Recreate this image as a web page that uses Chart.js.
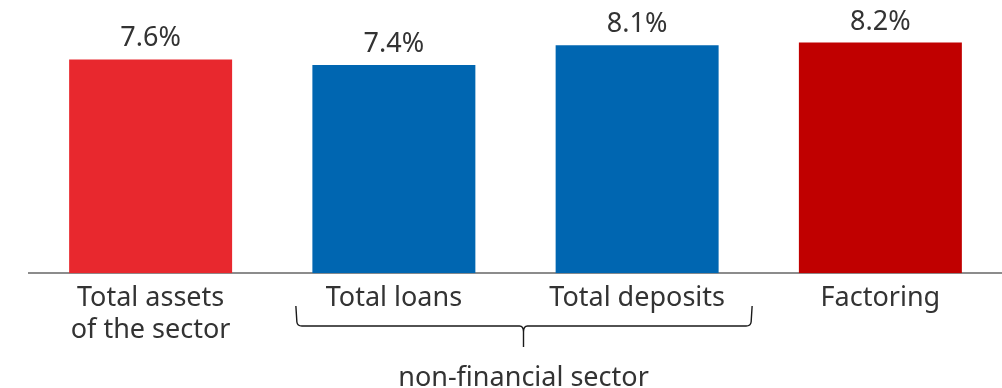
<!DOCTYPE html>
<html>
<head>
<meta charset="utf-8">
<script src="https://cdn.jsdelivr.net/npm/chart.js@4.4.1/dist/chart.umd.min.js"></script>
<style>
  html, body { margin: 0; padding: 0; background: #fff; }
  #wrap { width: 1002px; height: 388px; position: relative; }
</style>
</head>
<body>
<div id="wrap"><canvas id="growthChart"></canvas></div>
<script>
const categories = [
  ["Total assets", "of the sector"],
  "Total loans",
  "Total deposits",
  "Factoring"
];
const growthValues = [7.6, 7.4, 8.1, 8.2];
const barColors = ["#e8282e", "#0066b1", "#0066b1", "#c00000"];
const groupLabel = "non-financial sector";
const groupedBars = [1, 2];

const FONT = "'Noto Sans', 'Open Sans', sans-serif";
const TEXT = "#333333";

// value labels above each bar
const valueLabels = {
  id: "valueLabels",
  afterDatasetsDraw(chart) {
    const ctx = chart.ctx;
    const meta = chart.getDatasetMeta(0);
    ctx.save();
    ctx.font = "27px " + FONT;
    ctx.fillStyle = TEXT;
    ctx.textAlign = "center";
    ctx.textBaseline = "alphabetic";
    meta.data.forEach((bar, i) => {
      ctx.fillText(growthValues[i].toFixed(1) + "%", bar.x, bar.y - 13);
    });
    ctx.restore();
  }
};

// curly brace under the two non-financial sector bars
const groupBrace = {
  id: "groupBrace",
  afterDraw(chart) {
    const ctx = chart.ctx;
    const x = chart.scales.x;
    const left = x.getPixelForValue(groupedBars[0]) - 98;
    const right = x.getPixelForValue(groupedBars[1]) + 115;
    const mid = (x.getPixelForValue(groupedBars[0]) + x.getPixelForValue(groupedBars[1])) / 2 + 8;
    const top = 306, line = 326, tip = 347, r = 4;
    ctx.save();
    ctx.strokeStyle = "#1a1a1a";
    ctx.lineWidth = 1.4;
    ctx.beginPath();
    ctx.moveTo(left, top);
    ctx.lineTo(left + 1, line - r);
    ctx.quadraticCurveTo(left + 1.5, line, left + r + 2, line);
    ctx.lineTo(mid - r, line);
    ctx.quadraticCurveTo(mid, line, mid, line + r + 2);
    ctx.lineTo(mid, tip);
    ctx.moveTo(mid, line + r + 2);
    ctx.quadraticCurveTo(mid, line, mid + r, line);
    ctx.lineTo(right - r - 2, line);
    ctx.quadraticCurveTo(right - 1.5, line, right - 1, line - r);
    ctx.lineTo(right, top);
    ctx.stroke();

    ctx.font = "27px " + FONT;
    ctx.fillStyle = TEXT;
    ctx.textAlign = "center";
    ctx.textBaseline = "alphabetic";
    ctx.fillText(groupLabel, mid, 386);
    ctx.restore();
  }
};

new Chart(document.getElementById("growthChart"), {
  type: "bar",
  data: {
    labels: categories,
    datasets: [{
      data: growthValues,
      backgroundColor: barColors,
      categoryPercentage: 1,
      barPercentage: 0.67
    }]
  },
  options: {
    responsive: true,
    maintainAspectRatio: false,
    animation: false,
    devicePixelRatio: 1,
    layout: { padding: { left: 29, right: 0, top: 20, bottom: 32 } },
    plugins: {
      legend: { display: false },
      tooltip: { enabled: false }
    },
    scales: {
      x: {
        grid: { display: false, drawTicks: false },
        border: { display: true, color: "#8c8c8c", width: 2 },
        ticks: {
          color: TEXT,
          font: { family: FONT, size: 27 },
          padding: 9,
          maxRotation: 0,
          autoSkip: false
        }
      },
      y: {
        display: false,
        min: 0,
        max: 9
      }
    }
  },
  plugins: [valueLabels, groupBrace]
});
</script>
</body>
</html>
